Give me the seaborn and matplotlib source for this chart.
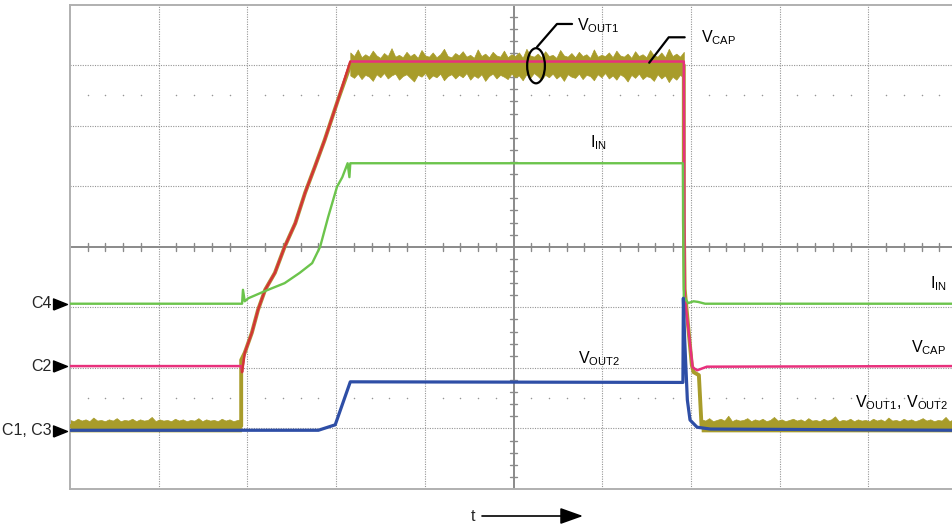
import numpy as np
import matplotlib
matplotlib.use("Agg")
import matplotlib.pyplot as plt
import seaborn as sns
from matplotlib.patches import Ellipse

# ---------------- data (in oscilloscope divisions) ----------------
# VCAP (pink)
vcap_t = [0.0, 1.93, 1.94, 1.97, 2.05, 2.12, 2.20, 2.31, 2.42, 2.54, 2.65, 2.76, 2.87, 3.02, 3.16,
          6.92, 6.93, 7.02, 7.07, 7.18, 10.0]
vcap_v = [2.03, 2.03, 1.93, 2.25, 2.58, 2.96, 3.29, 3.57, 4.00, 4.39, 4.89, 5.32, 5.76, 6.42, 7.06,
          7.06, 3.17, 2.01, 1.96, 2.02, 2.03]

# VOUT1 (olive) centre trace
vout1_t = [0.0, 1.93, 1.93, 1.97, 2.05, 2.12, 2.20, 2.31, 2.42, 2.54, 2.65, 2.76, 2.87, 3.02, 3.16,
           6.92, 6.92, 6.93, 7.01, 7.03, 7.09, 7.12, 10.0]
vout1_v = [1.04, 1.04, 2.13, 2.25, 2.58, 2.96, 3.29, 3.57, 4.00, 4.39, 4.89, 5.32, 5.76, 6.42, 7.00,
           7.00, 4.44, 3.30, 2.05, 1.93, 1.88, 1.04, 1.04]

# VOUT1 noise envelopes
top_band_range = (3.16, 6.92)
top_upper = [7.21, 7.15, 7.26, 7.13, 7.18, 7.14, 7.24, 7.16, 7.12, 7.20,
             7.15, 7.28, 7.14, 7.17, 7.13, 7.22, 7.15, 7.19, 7.12, 7.25,
             7.16, 7.14, 7.21, 7.13, 7.18, 7.27, 7.15, 7.13, 7.20, 7.16,
             7.23, 7.14, 7.17, 7.12, 7.26, 7.15, 7.19, 7.13, 7.22, 7.16,
             7.14, 7.24, 7.13, 7.18, 7.15, 7.21, 7.12, 7.27, 7.16, 7.14,
             7.19, 7.13, 7.23, 7.15, 7.17, 7.12, 7.25, 7.16, 7.14, 7.20,
             7.13, 7.22, 7.15, 7.18, 7.12, 7.26, 7.14, 7.17, 7.15, 7.21,
             7.13, 7.24, 7.16, 7.14, 7.19, 7.12, 7.23, 7.15, 7.18, 7.13,
             7.25, 7.16, 7.14, 7.21, 7.13, 7.27, 7.15, 7.19, 7.14, 7.22]
top_lower = [6.83, 6.79, 6.86, 6.77, 6.84, 6.81, 6.74, 6.85, 6.80, 6.87,
             6.78, 6.83, 6.86, 6.76, 6.82, 6.85, 6.79, 6.73, 6.84, 6.81,
             6.87, 6.77, 6.83, 6.80, 6.86, 6.75, 6.82, 6.85, 6.78, 6.84,
             6.80, 6.87, 6.76, 6.83, 6.79, 6.85, 6.74, 6.82, 6.86, 6.78,
             6.84, 6.81, 6.77, 6.86, 6.80, 6.83, 6.75, 6.85, 6.79, 6.87,
             6.82, 6.76, 6.84, 6.80, 6.86, 6.78, 6.83, 6.74, 6.85, 6.81,
             6.79, 6.86, 6.77, 6.84, 6.82, 6.75, 6.85, 6.80, 6.87, 6.78,
             6.83, 6.76, 6.85, 6.81, 6.73, 6.84, 6.79, 6.86, 6.77, 6.82,
             6.80, 6.74, 6.85, 6.78, 6.83, 6.72, 6.81, 6.76, 6.84, 6.79]
base_left_range = (0.0, 1.93)
base_left_upper = [1.14, 1.12, 1.16, 1.13, 1.15, 1.12, 1.18, 1.13, 1.14, 1.12, 1.15, 1.13, 1.17, 1.12, 1.14,
                   1.13, 1.16, 1.12, 1.15, 1.13, 1.14, 1.19, 1.12, 1.15, 1.13, 1.14, 1.12, 1.16, 1.13, 1.15,
                   1.12, 1.14, 1.13, 1.17, 1.12, 1.15, 1.13, 1.14, 1.12, 1.16, 1.13, 1.15, 1.12, 1.14, 1.15]
base_right_range = (7.12, 10.0)
base_right_upper = [1.15, 1.13, 1.17, 1.12, 1.14, 1.16, 1.13, 1.21, 1.12, 1.15, 1.13, 1.14, 1.17, 1.12, 1.15,
                    1.13, 1.16, 1.12, 1.14, 1.19, 1.13, 1.15, 1.12, 1.14, 1.16, 1.13, 1.15, 1.12, 1.17, 1.13,
                    1.14, 1.12, 1.16, 1.13, 1.15, 1.20, 1.12, 1.14, 1.13, 1.16, 1.12, 1.15, 1.13, 1.14, 1.12,
                    1.16, 1.13, 1.15, 1.12, 1.18, 1.13, 1.14, 1.12, 1.16, 1.13, 1.15, 1.12, 1.14, 1.17, 1.13,
                    1.15, 1.12, 1.14, 1.13, 1.19, 1.12, 1.15, 1.13]
base_lower = 0.95

# IIN (green)
iin_t = [0.0, 1.94, 1.95, 1.97, 2.01, 2.20, 2.42, 2.59, 2.73, 2.82, 2.91, 3.01, 3.07, 3.13, 3.15, 3.16,
         6.91, 6.92, 6.97, 7.03, 7.08, 7.16, 10.0]
iin_v = [3.06, 3.06, 3.29, 3.10, 3.15, 3.27, 3.40, 3.57, 3.73, 4.00, 4.49, 4.99, 5.15, 5.38, 5.15, 5.38,
         5.38, 3.17, 3.07, 3.10, 3.09, 3.06, 3.06]

# VOUT2 (blue)
vout2_t = [0.0, 2.80, 2.99, 3.16, 6.91, 6.915, 6.93, 6.96, 6.99, 7.07, 7.22, 10.0]
vout2_v = [0.97, 0.97, 1.06, 1.77, 1.76, 3.15, 2.46, 1.47, 1.14, 1.02, 0.99, 0.97]

channel_labels = ["C4", "C2", "C1, C3"]
channel_levels = [3.06, 2.03, 0.96]

# ---------------- style ----------------
sns.set_style("white")
plt.rcParams["font.family"] = ["Liberation Sans", "DejaVu Sans"]

OLIVE = "#a89c2a"
PINK = "#e8307c"
RAMP = "#cf3a2c"
GREEN = "#6cc44c"
BLUE = "#2e4ea6"
GRID = "#959595"

W, H = 953, 527
fig = plt.figure(figsize=(W / 100, H / 100), dpi=100)
ax = fig.add_axes([70 / W, 38 / H, 887 / W, 484.4 / H])
ax.set_xlim(0, 10)
ax.set_ylim(0, 8)
ax.set_xticks([])
ax.set_yticks([])
for s in ax.spines.values():
    s.set_color("#b0b0b0")
    s.set_linewidth(1.4)

# graticule
for gx in range(1, 10):
    if gx != 5:
        ax.axvline(gx, color=GRID, lw=0.8, ls=(0, (1, 1.2)), zorder=1)
for gy in range(1, 8):
    if gy != 4:
        ax.axhline(gy, color=GRID, lw=0.8, ls=(0, (1, 1.2)), zorder=1)
ax.axhline(4, color="#8a8a8a", lw=1.4, zorder=1)
ax.axvline(5, color="#8a8a8a", lw=1.4, zorder=1)
minor_x = [i * 0.2 for i in range(51) if i % 5 != 0]
minor_y = [i * 0.2 for i in range(41) if i % 5 != 0]
for mx in minor_x:
    ax.plot([mx, mx], [4 - 0.066, 4 + 0.066], color="#8a8a8a", lw=1.0, zorder=1)
for my in minor_y:
    ax.plot([5 - 0.045, 5 + 0.045], [my, my], color="#8a8a8a", lw=1.0, zorder=1)
for dy in (1.5, 6.5):
    ax.scatter(minor_x, [dy] * len(minor_x), s=1.2, color=GRID, zorder=1, linewidths=0)

# VOUT1 noise bands
def band(rng, upper, lower):
    xs = np.linspace(rng[0], rng[1], len(upper))
    ax.fill_between(xs, lower, upper, color=OLIVE, lw=0.5, edgecolor=OLIVE, zorder=2)

band(top_band_range, top_upper, top_lower)
band(base_left_range, base_left_upper, [base_lower] * len(base_left_upper))
band(base_right_range, base_right_upper, [base_lower] * len(base_right_upper))

sns.lineplot(x=vout1_t, y=vout1_v, ax=ax, color=OLIVE, lw=2.8, estimator=None, sort=False, zorder=3)
sns.lineplot(x=vcap_t, y=vcap_v, ax=ax, color=PINK, lw=1.8, estimator=None, sort=False, zorder=4)
sns.lineplot(x=vcap_t[2:15], y=vcap_v[2:15], ax=ax, color=RAMP, lw=1.5, estimator=None, sort=False, zorder=4)
sns.lineplot(x=iin_t, y=iin_v, ax=ax, color=GREEN, lw=1.7, estimator=None, sort=False, zorder=5)
sns.lineplot(x=vout2_t, y=vout2_v, ax=ax, color=BLUE, lw=2.3, estimator=None, sort=False, zorder=6)

# annotations
fs = 11.5
def lab(x, y, s):
    ax.text(x, y, s, fontsize=fs, ha="left", va="baseline", color="black", zorder=8)

lab(5.72, 7.58, r"$\mathregular{V_{OUT1}}$")
lab(7.11, 7.38, r"$\mathregular{V_{CAP}}$")
lab(5.86, 5.65, r"$\mathregular{I_{IN}}$")
lab(9.70, 3.32, r"$\mathregular{I_{IN}}$")
lab(9.48, 2.25, r"$\mathregular{V_{CAP}}$")
lab(5.73, 2.08, r"$\mathregular{V_{OUT2}}$")
lab(8.85, 1.35, r"$\mathregular{V_{OUT1},\,V_{OUT2}}$")

ax.plot([5.66, 5.49, 5.265], [7.68, 7.68, 7.30], color="black", lw=1.6, zorder=8)
ax.plot([6.93, 6.75, 6.53], [7.46, 7.46, 7.04], color="black", lw=1.6, zorder=8)
ax.add_patch(Ellipse((5.254, 6.99), 0.20, 0.58, fill=False, edgecolor="black", lw=1.6, zorder=8))

tri = [(-1, -0.8), (1, 0), (-1, 0.8), (-1, -0.8)]
for name, lvl in zip(channel_labels, channel_levels):
    ax.plot([-0.113], [lvl], marker=tri, ms=10, color="black", clip_on=False, zorder=8)
    ypx = 38 + lvl * 60.55
    fig.text(52 / W, ypx / H, name, fontsize=11.5, ha="right", va="center")

fig.text(473 / W, 6 / H, "t", fontsize=11.5, ha="center", va="baseline")
ax.annotate("", xy=(583, 11), xytext=(482, 11), xycoords="figure pixels", textcoords="figure pixels",
            arrowprops=dict(arrowstyle="-|>,head_length=0.7,head_width=0.25", color="black", lw=1.2,
                            mutation_scale=20, shrinkA=0, shrinkB=0))

fig.savefig("out.png", dpi=100)
